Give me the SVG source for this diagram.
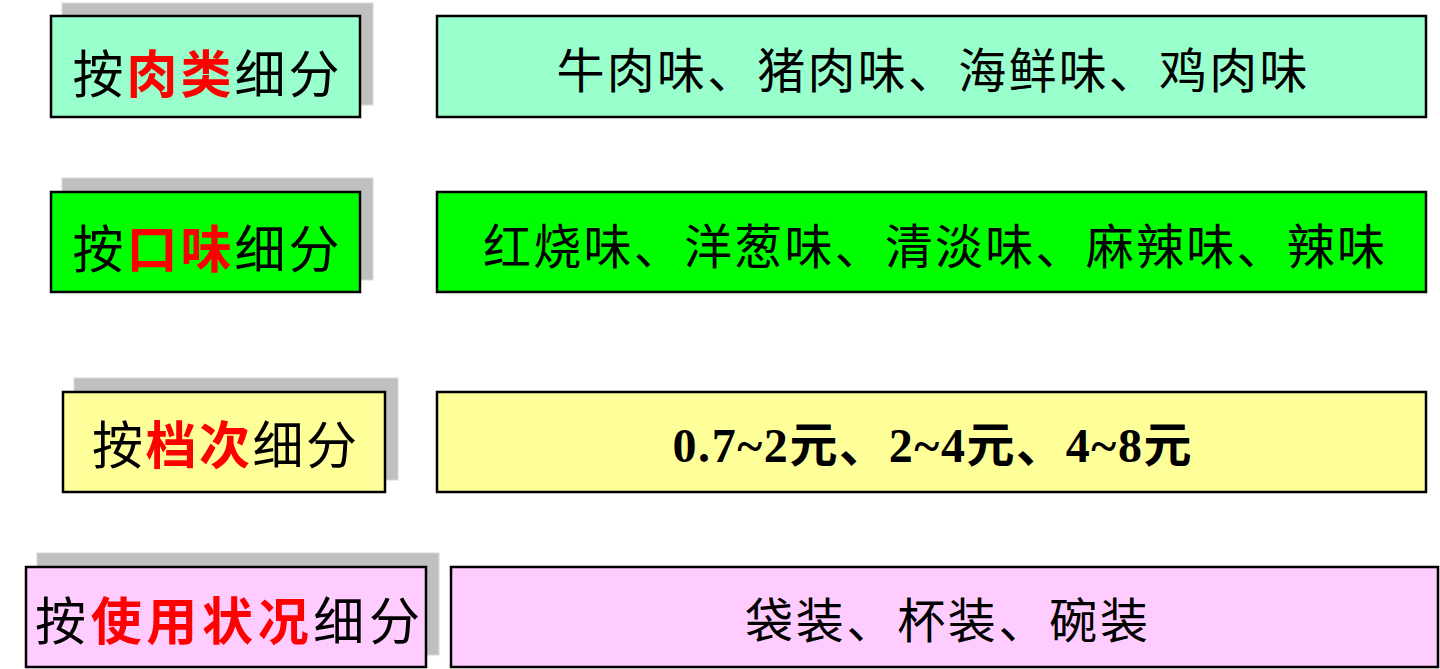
<svg xmlns="http://www.w3.org/2000/svg" width="1440" height="669" viewBox="0 0 1440 669">
<style>
.sh{fill:#C0C0C0;stroke:#D8D8D8;stroke-width:1}
.bx{stroke:#000;stroke-width:2.5}
.lb{font-family:"Liberation Serif","Noto Sans CJK SC",serif;font-size:51px;fill:#000;text-anchor:middle}
.rd{fill:#FF0000;font-weight:bold;font-family:"Noto Sans CJK SC",sans-serif}
.vt{font-family:"Liberation Serif","Noto Sans CJK SC",serif;font-size:48px;fill:#000;text-anchor:middle}
.g1{fill:#99FFCC}.g2{fill:#00FF00}.g3{fill:#FFFF99}.g4{fill:#FFCCFF}
</style>
<rect width="1440" height="669" fill="#FFFFFF"/>
<g id="connectors"></g>
<g id="meat-label">
<rect class="sh" x="62" y="3" width="311" height="102"/>
<rect class="bx g1" x="51" y="16" width="309" height="101"/>
<text class="lb" x="206" y="93" textLength="267" lengthAdjust="spacing">按<tspan class="rd">肉类</tspan>细分</text>
</g>
<g id="meat-values">
<rect class="bx g1" x="437" y="16" width="989" height="101"/>
<text class="vt" x="932" y="88" textLength="751" lengthAdjust="spacing">牛肉味、猪肉味、海鲜味、鸡肉味</text>
</g>
<g id="taste-label">
<rect class="sh" x="62" y="178" width="311" height="102"/>
<rect class="bx g2" x="51" y="192" width="309" height="100"/>
<text class="lb" x="206" y="268" textLength="267" lengthAdjust="spacing">按<tspan class="rd">口味</tspan>细分</text>
</g>
<g id="taste-values">
<rect class="bx g2" x="437" y="192" width="989" height="100"/>
<text class="vt" x="934" y="264" textLength="902" lengthAdjust="spacing">红烧味、洋葱味、清淡味、麻辣味、辣味</text>
</g>
<g id="grade-label">
<rect class="sh" x="74" y="378" width="324" height="102"/>
<rect class="bx g3" x="63" y="392" width="322" height="100"/>
<text class="lb" x="224.5" y="464" textLength="265" lengthAdjust="spacing">按<tspan class="rd">档次</tspan>细分</text>
</g>
<g id="grade-values">
<rect class="bx g3" x="437" y="392" width="989" height="100"/>
<text class="vt" x="932" y="462" font-weight="bold" font-size="46" textLength="519" lengthAdjust="spacing">0.7~2元、2~4元、4~8元</text>
</g>
<g id="usage-label">
<rect class="sh" x="37" y="553" width="402" height="102"/>
<rect class="bx g4" x="26" y="567" width="400" height="100"/>
<text class="lb" x="227.5" y="640" textLength="385" lengthAdjust="spacing">按<tspan class="rd">使用状况</tspan>细分</text>
</g>
<g id="usage-values">
<rect class="bx g4" x="451" y="567" width="987" height="100"/>
<text class="vt" x="946.5" y="638" textLength="403" lengthAdjust="spacing">袋装、杯装、碗装</text>
</g>
</svg>
